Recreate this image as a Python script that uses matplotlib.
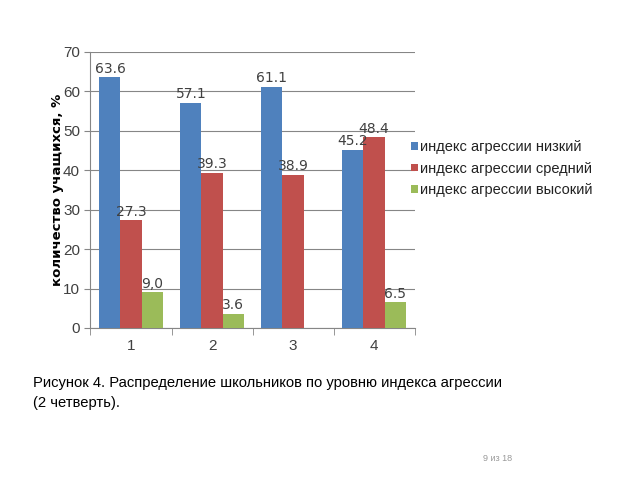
import matplotlib
matplotlib.use("Agg")
import matplotlib.pyplot as plt
import numpy as np

categories = ["1", "2", "3", "4"]
series_names = ["индекс агрессии низкий", "индекс агрессии средний", "индекс агрессии высокий"]
low = [63.6, 57.1, 61.1, 45.2]
mid = [27.3, 39.3, 38.9, 48.4]
high = [9.0, 3.6, None, 6.5]
labels_low = ["63.6", "57.1", "61.1", "45.2"]
labels_mid = ["27.3", "39.3", "38.9", "48.4"]
labels_high = ["9,0", "3.6", "", "6.5"]
colors = ["#4F81BD", "#C0504D", "#9BBB59"]

plt.rcParams['font.family'] = ['Liberation Sans', 'DejaVu Sans']

fig = plt.figure(figsize=(6.4, 4.8), dpi=100)
ax = fig.add_axes([0.1414, 0.3167, 0.5063, 0.575])

x = np.arange(len(categories))
w = 0.26
handles = []
for i, (vals, labs) in enumerate(zip([low, mid, high], [labels_low, labels_mid, labels_high])):
    xs = [xx for xx, v in zip(x, vals) if v is not None]
    vs = [v for v in vals if v is not None]
    ls = [l for l, v in zip(labs, vals) if v is not None]
    bars = ax.bar(np.array(xs) + (i - 1) * w, vs, width=w, color=colors[i], zorder=3,
                  label=series_names[i])
    handles.append(bars)
    for b, l in zip(bars, ls):
        ax.text(b.get_x() + b.get_width() / 2, b.get_height() + 0.4, l,
                ha="center", va="bottom", fontsize=10, color="#404040",
                family=['DejaVu Sans'], zorder=4)

ax.set_xlim(-0.5, 3.5)
ax.set_ylim(0, 70)
ax.set_yticks(range(0, 71, 10))
ax.set_xticks(x)
ax.set_xticklabels(categories)
ax.set_xticks(np.arange(-0.5, 3.6, 1), minor=True)
ax.tick_params(axis='x', which='major', length=0, labelsize=11, labelcolor="#404040", pad=8)
ax.tick_params(axis='x', which='minor', length=5, color="#868686", direction='out')
ax.tick_params(axis='y', length=4, color="#868686", labelsize=11, labelcolor="#404040")
ax.grid(axis='y', color="#868686", linewidth=0.8, zorder=0)
for s in ["top", "right"]:
    ax.spines[s].set_visible(False)
for s in ["left", "bottom"]:
    ax.spines[s].set_color("#868686")

ax.set_ylabel("количество учащихся, %", fontsize=9.5, fontweight="bold",
              family=['DejaVu Sans'], labelpad=-1)

leg = fig.legend(handles=handles, labels=series_names, loc="upper left",
                 bbox_to_anchor=(0.622, 0.735), frameon=False, fontsize=10.5,
                 handlelength=0.45, handleheight=0.45, handletextpad=0.15,
                 labelspacing=0.5, labelcolor="#222222")

fig.text(0.052, 0.181, "Рисунок 4. Распределение школьников по уровню индекса агрессии\n(2 четверть).",
         fontsize=10.6, family=['Liberation Sans Narrow', 'Liberation Sans'],
         va="center", ha="left", linespacing=1.5)
fig.text(0.755, 0.045, "9 из 18", fontsize=6.5, color="#999999",
         family=['Liberation Sans Narrow', 'Liberation Sans'], ha="left", va="center")

fig.savefig("out.png", dpi=100)
